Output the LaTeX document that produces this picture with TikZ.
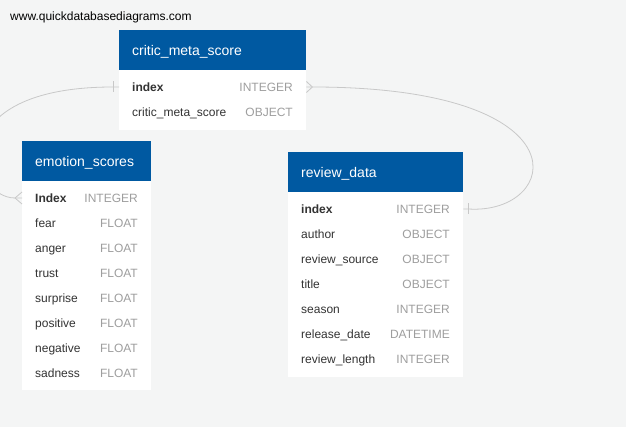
\documentclass[tikz,border=0pt]{standalone}
\usepackage{fontspec}
\setmainfont{Liberation Sans}
\definecolor{qdbblue}{RGB}{0,89,161}
\definecolor{qdbbg}{RGB}{244,245,245}
\definecolor{qdbline}{RGB}{200,200,200}
\definecolor{qdbname}{RGB}{51,51,51}
\definecolor{qdbtype}{RGB}{158,158,158}
\tikzset{>=latex}
\usetikzlibrary{positioning}

\begin{document}
\begin{tikzpicture}[x=1pt, y=-1pt,
    tablehead/.style={fill=qdbblue, text=white, anchor=north west, inner xsep=13pt, inner ysep=0pt,
      minimum height=40pt, align=left, text height=10pt, text depth=0pt, font=\fontsize{14}{16}\selectfont},
    tablebody/.style={fill=white, anchor=north west, inner sep=0pt},
    fieldname/.style={anchor=west, inner sep=0pt, text=qdbname, text height=8.6pt, text depth=0pt,
      font=\fontsize{12}{14}\selectfont},
    keyname/.style={fieldname, font=\fontsize{12}{14}\selectfont\bfseries},
    fieldtype/.style={fieldname, anchor=east, text=qdbtype},
    relation/.style={draw=qdbline, line width=0.8pt}]
      \useasboundingbox (0,0) rectangle (626,427);
      \fill[qdbbg] (0,0) rectangle (626,427);
      \node[fieldname, text=black] (site) at (10,16) {www.quickdatabasediagrams.com};

      % critic_meta_score
      \node[tablebody, minimum width=187pt, minimum height=60pt] (cms-body) at (119,70) {};
      \node[tablehead, text width=161pt] (cms-head) at (119,30) {critic\_meta\_score};
      \node[keyname] (cms-index) at (132,87) {index};
      \node[fieldtype] at (293,87) {INTEGER};
      \node[fieldname] (cms-score) at (132,112) {critic\_meta\_score};
      \node[fieldtype] at (293,112) {OBJECT};

      % emotion_scores
      \node[tablebody, minimum width=129pt, minimum height=209pt] (es-body) at (22,181) {};
      \node[tablehead, text width=103pt] (es-head) at (22,141) {emotion\_scores};
      \node[keyname] (es-index) at (35,198) {Index};
      \node[fieldtype] at (138,198) {INTEGER};
      \foreach \f [count=\i] in {fear,anger,trust,surprise,positive,negative,sadness} {
        \node[fieldname] (es-\f) at (35,198+25*\i) {\f};
        \node[fieldtype] at (138,198+25*\i) {FLOAT};
      }

      % review_data
      \node[tablebody, minimum width=175pt, minimum height=185pt] (rd-body) at (288,192) {};
      \node[tablehead, text width=149pt] (rd-head) at (288,152) {review\_data};
      \node[keyname] (rd-index) at (301,209) {index};
      \node[fieldtype] at (450,209) {INTEGER};
      \foreach \f/\t [count=\i] in {author/OBJECT, review\_source/OBJECT, title/OBJECT,
          season/INTEGER, release\_date/DATETIME, review\_length/INTEGER} {
        \node[fieldname] (rd-row\i) at (301,209+25*\i) {\f};
        \node[fieldtype] at (450,209+25*\i) {\t};
      }

      % relations
      \coordinate (cms-west) at (cms-body.west |- cms-index);
      \coordinate (cms-east) at (cms-body.east |- cms-index);
      \coordinate (es-west) at (es-body.west |- es-index);
      \coordinate (rd-east) at (rd-body.east |- rd-index);

      \draw[relation] (cms-west) -- ++(-6,0) coordinate (cms-bar)
        .. controls (-60,87) and (-30,198) .. ([xshift=-7pt]es-west) -- (es-west);
      \draw[relation] (cms-bar) ++(0,-5.5) -- ++(0,11);
      \draw[relation] (es-west) ++(0,-6) -- ++(-7,6) -- ++(7,6);

      \draw[relation] (cms-east) -- ++(6,0) coordinate (cms-foot)
        .. controls (590,87) and (560,215) .. ([xshift=5pt]rd-east) coordinate (rd-bar) -- (rd-east);
      \draw[relation] (cms-east) ++(0,-5.5) -- (cms-foot) -- ++(-6,5.5);
      \draw[relation] (rd-bar) ++(0,-5.5) -- ++(0,11);
    \end{tikzpicture}
\end{document}
